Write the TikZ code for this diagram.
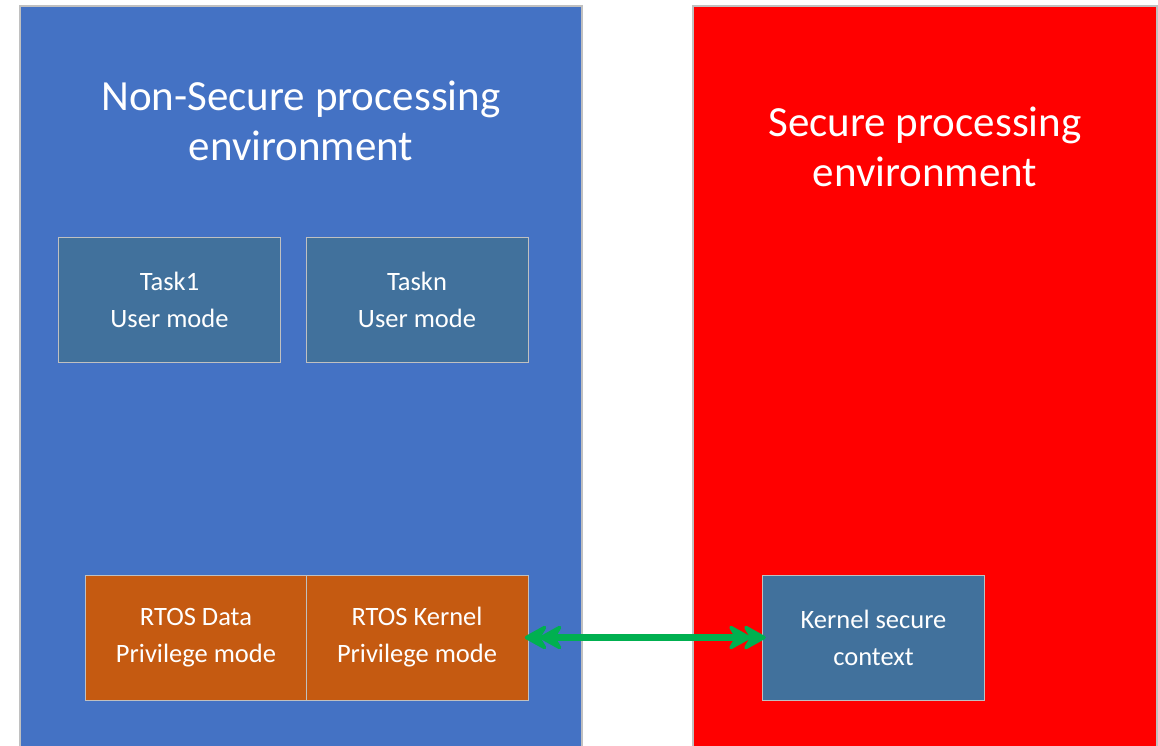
\documentclass[tikz,border=0pt]{standalone}
\usepackage{fontspec}
\setmainfont{Carlito}
\usetikzlibrary{calc}
\definecolor{nsblue}{HTML}{4472C4}
\definecolor{sred}{HTML}{FF0000}
\definecolor{boxblue}{HTML}{41719C}
\definecolor{rtosorange}{HTML}{C55A11}
\definecolor{linkgreen}{HTML}{00B050}
\definecolor{edgegray}{HTML}{C0C0C0}
\newcommand{\greenhead}[2]{%
  \filldraw[headstyle] (#1) -- ++(#2*18,10) -- ++(-#2*6,-10) -- ++(#2*6,-10) -- cycle;}
\begin{document}
\begin{tikzpicture}[x=1pt,y=-1pt,
  region/.style={draw=edgegray,line width=1.2pt},
  titletext/.style={text=white,align=center,font=\fontsize{43}{50}\selectfont,inner sep=0pt},
  modebox/.style={draw=edgegray,line width=1pt,minimum width=222pt,minimum height=125pt,inner sep=0pt,
    text=white,align=center,font=\fontsize{26.5}{37}\selectfont},
  taskbox/.style={modebox,fill=boxblue},
  rtosbox/.style={modebox,fill=rtosorange},
  link/.style={draw=linkgreen,line width=7.5pt},
  headstyle/.style={fill=linkgreen,draw=linkgreen,line width=3.5pt,line join=round}]
\useasboundingbox (0,0) rectangle (1158,745);
\fill[white] (0,0) rectangle (1158,745);
\path[region,fill=nsblue] (20,760) -- (20,6) -- (582,6) -- (582,760);
\path[region,fill=sred] (693,760) -- (693,6) -- (1157,6) -- (1157,760);
\node[titletext] (nstitle) at (301,121) {Non-Secure processing\\environment};
\node[titletext] (stitle) at (925,147) {Secure processing\\environment};
\node[taskbox] (task1) at (169.5,300) {Task1\\User mode};
\node[taskbox] (taskn) at (417,300) {Taskn\\User mode};
\node[rtosbox] (rdata) at (196,637.5) {RTOS Data\\Privilege mode};
\node[rtosbox] (rkernel) at (417,637.5) {RTOS Kernel\\Privilege mode};
\node[taskbox] (ksec) at (873.5,637.5) {Kernel secure\\context};
\coordinate (la) at ($(rkernel.east)+(-2,0)$);
\coordinate (lb) at ($(rkernel.east)+(13,0)$);
\coordinate (ra) at ($(ksec.west)+(2,0)$);
\coordinate (rb) at ($(ksec.west)+(-13,0)$);
\draw[link] ($(rkernel.east)+(20,0)$) -- ($(ksec.west)+(-20,0)$);
\greenhead{la}{1}
\greenhead{lb}{1}
\greenhead{ra}{-1}
\greenhead{rb}{-1}
\end{tikzpicture}
\end{document}
